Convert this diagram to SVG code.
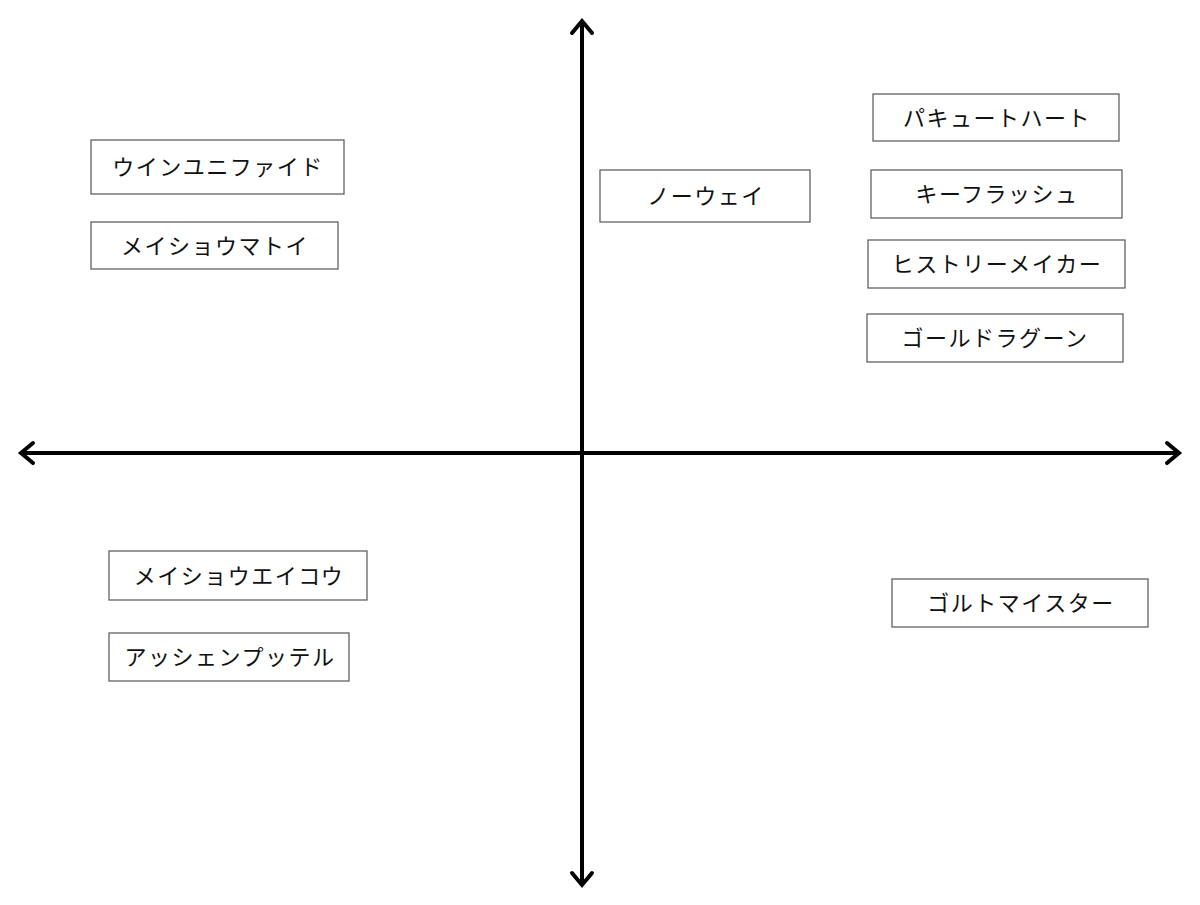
<svg xmlns="http://www.w3.org/2000/svg" width="1200" height="905" viewBox="0 0 1200 905">
<style>
.box{fill:#fff;stroke:#555;stroke-width:1.2}
.lbl{font-family:"Liberation Serif","Noto Sans CJK JP",serif;font-size:22px;letter-spacing:1.5px;fill:#111;text-anchor:middle;dominant-baseline:central}
.axis{stroke:#000;stroke-width:4;fill:none}
.head{stroke:#000;stroke-width:4;fill:none;stroke-linecap:round;stroke-linejoin:miter}
</style>
<rect width="1200" height="905" fill="#fff"/>
<g id="connectors">
<line class="axis" x1="582" y1="22" x2="582" y2="884"/>
<line class="axis" x1="22" y1="453" x2="1178" y2="453"/>
<polyline class="head" points="572,33 582,21 592,33"/>
<polyline class="head" points="572,873 582,885 592,873"/>
<polyline class="head" points="33,443 21,453 33,463"/>
<polyline class="head" points="1167,443 1179,453 1167,463"/>
</g>
<g id="n1"><rect class="box" x="91" y="140" width="253" height="54"/><text class="lbl" x="218" y="167">ウインユニファイド</text></g>
<g id="n2"><rect class="box" x="91" y="222" width="247" height="47"/><text class="lbl" x="215" y="246">メイショウマトイ</text></g>
<g id="n3"><rect class="box" x="600" y="170" width="210" height="52"/><text class="lbl" x="706" y="196">ノーウェイ</text></g>
<g id="n4"><rect class="box" x="873" y="94" width="246" height="47"/><text class="lbl" x="997" y="118">パキュートハート</text></g>
<g id="n5"><rect class="box" x="871" y="170" width="251" height="48"/><text class="lbl" x="997" y="194">キーフラッシュ</text></g>
<g id="n6"><rect class="box" x="868" y="240" width="257" height="48"/><text class="lbl" x="997" y="264">ヒストリーメイカー</text></g>
<g id="n7"><rect class="box" x="867" y="314" width="256" height="48"/><text class="lbl" x="995" y="338">ゴールドラグーン</text></g>
<g id="n8"><rect class="box" x="109" y="551" width="258" height="49"/><text class="lbl" x="239" y="576">メイショウエイコウ</text></g>
<g id="n9"><rect class="box" x="109" y="633" width="240" height="48"/><text class="lbl" x="230" y="657">アッシェンプッテル</text></g>
<g id="n10"><rect class="box" x="892" y="579" width="256" height="48"/><text class="lbl" x="1021" y="603">ゴルトマイスター</text></g>
</svg>
